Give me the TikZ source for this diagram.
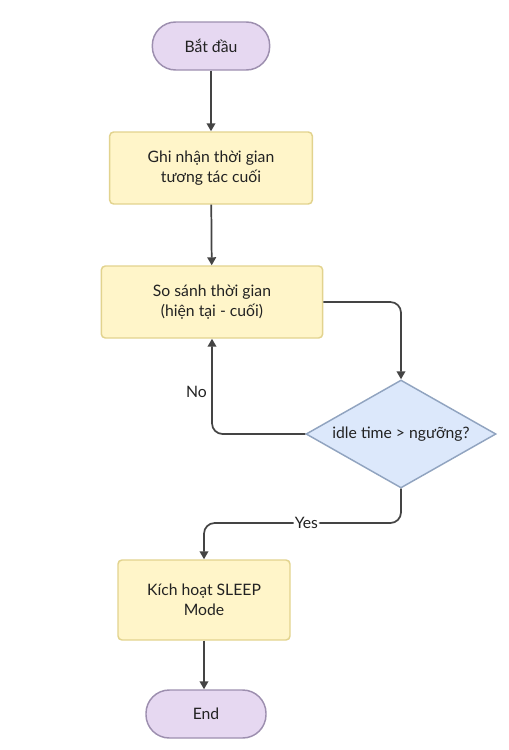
\documentclass[tikz,border=0pt]{standalone}
\usepackage{fontspec}
\setmainfont{Lato}
\usetikzlibrary{shapes.geometric,arrows.meta}
\definecolor{termfill}{HTML}{E6D8F1}
\definecolor{termline}{HTML}{9D8FAF}
\definecolor{boxfill}{HTML}{FFF5C9}
\definecolor{boxline}{HTML}{E2D38E}
\definecolor{decfill}{HTML}{DCE8FB}
\definecolor{decline}{HTML}{91A4C0}
\definecolor{flowline}{HTML}{444444}
\definecolor{txt}{HTML}{222222}

\begin{document}
\begin{tikzpicture}[
    x=0.75pt,y=-0.75pt,
    every node/.style={font=\fontsize{11.8}{15}\selectfont,text=txt},
    term/.style={rectangle,rounded corners=17.5pt,draw=termline,fill=termfill,line width=1.1pt,minimum width=88pt,minimum height=36pt},
    stepbox/.style={rectangle,rounded corners=3pt,draw=boxline,fill=boxfill,line width=1.1pt,align=center,minimum height=54pt},
    decision/.style={diamond,aspect=1.76,inner sep=0pt,draw=decline,fill=decfill,line width=1.1pt,minimum width=142.5pt,minimum height=81pt},
    flow/.style={draw=flowline,line width=1.3pt,rounded corners=8pt,-{Triangle[length=6pt,width=6.5pt]}}
    ]
    \useasboundingbox (0,0) rectangle (509,750);
    % nodes
    \node[term](start) at (211,46){Bắt đầu};
    \node[stepbox,minimum width=152pt](rec) at (211,168){Ghi nhận thời gian\\tương tác cuối};
    \node[stepbox,minimum width=166pt](cmp) at (212,302){So sánh thời gian\\(hiện tại - cuối)};
    \node[decision](idle) at (401,434){idle time > ngưỡng?};
    \node[stepbox,minimum width=129pt,minimum height=60pt](sleep) at (204,600){Kích hoạt SLEEP\\Mode};
    \node[term,minimum width=90pt](stop) at (206,714){End};
    \coordinate (yesbend) at (401,523);
    % connectors
    \draw[flow] (start) -- (rec);
    \draw[flow] (rec) -- (cmp);
    \draw[flow] (cmp.east) -| (idle.north);
    \draw[flow] (idle.west) -| (cmp.south) node[pos=0.72,left]{No};
    \draw[flow] (idle.south) -- (yesbend) -| (sleep.north) node[pos=0.24,fill=white,inner sep=1pt]{Yes};
    \draw[flow] (sleep.south) -- (sleep.south |- stop.north);
  \end{tikzpicture}
\end{document}
